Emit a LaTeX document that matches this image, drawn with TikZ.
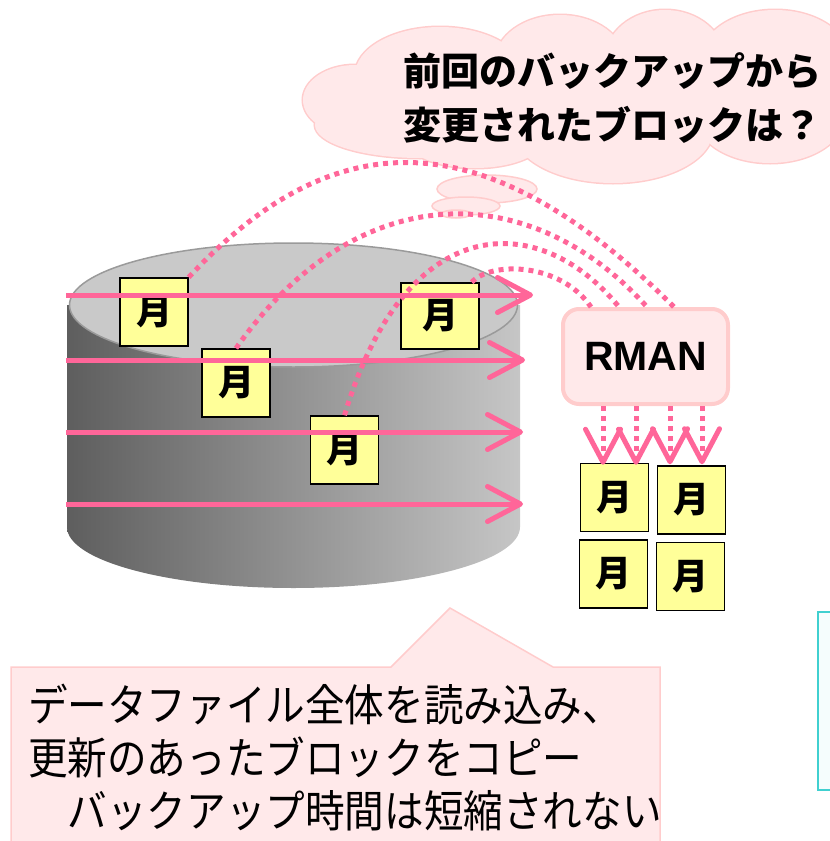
\documentclass[tikz,border=0pt]{standalone}
\usepackage{fontspec}
\setmainfont{Liberation Sans}
\newfontfamily\jp{Noto Sans CJK JP}
\newfontfamily\jpnarrow[FakeStretch=0.9]{Noto Sans CJK JP}
\usetikzlibrary{arrows.meta,calc}
\definecolor{hotpink}{HTML}{FF6699}
\definecolor{paleink}{HTML}{FFE9EA}
\definecolor{paleline}{HTML}{FFCCCC}
\definecolor{memo}{HTML}{FFFF99}
\definecolor{cylDark}{HTML}{5E5E5E}
\definecolor{cylLight}{HTML}{C6C6C6}
\definecolor{cylTop}{HTML}{C9C9C9}
\definecolor{cylEdge}{HTML}{9A9A9A}
\definecolor{aqua}{HTML}{40D0D0}

\begin{document}
\begin{tikzpicture}[x=1pt,y=-1pt,
    blk/.style={draw=black,line width=1.5pt,fill=memo,minimum width=68pt,minimum height=68pt,inner sep=0pt,font=\jp\bfseries\fontsize{36}{36}\selectfont},
    barb/.style={-{Straight Barb[length=33pt,width=35pt,round]}},
    scan/.style={hotpink,line width=5pt,barb},
    chg/.style={hotpink,line width=5pt,dash pattern=on 5pt off 5pt},
    lobe/.style={draw=paleline,fill=paleink,line width=3pt}]
\useasboundingbox (0,0) rectangle (830,841);
\clip (0,0) rectangle (830,841);

% thought cloud: outline of all lobes first, then fill them over
\foreach \cx/\cy/\rx/\ry in {355/100/52/35,440/75/85/48,560/62/65/47,665/60/60/50,775/60/75/50,
    420/125/105/33,475/138/70/30,613/130/100/53,770/115/75/48,800/100/40/45}
  \draw[lobe] (\cx,\cy) ellipse[x radius=\rx,y radius=\ry];
\foreach \cx/\cy/\rx/\ry in {355/100/52/35,440/75/85/48,560/62/65/47,665/60/60/50,775/60/75/50,
    420/125/105/33,475/138/70/30,613/130/100/53,770/115/75/48,800/100/40/45,600/95/180/60}
  \fill[paleink] (\cx,\cy) ellipse[x radius=\rx,y radius=\ry];
\draw[paleline,fill=paleink,line width=1.5pt] (487,189) ellipse[x radius=50,y radius=14];
\draw[paleline,fill=paleink,line width=1.5pt] (466,206) ellipse[x radius=34,y radius=9];
\draw[paleline,fill=paleink,line width=1.5pt] (456,214) ellipse[x radius=15,y radius=4];
\node[font=\jp\bfseries\fontsize{38}{54}\selectfont,align=center] (ask) at (612,98)
  {前回のバックアップから\\変更されたブロックは？};

% datafile cylinder
\path[left color=cylDark,right color=cylLight] (67,305) -- (67,527)
  arc[start angle=180,end angle=0,x radius=226.5,y radius=61] -- (520,305) -- cycle;
\draw[cylEdge,fill=cylTop,line width=1.5pt] (293.5,305) ellipse[x radius=224,y radius=62];

% blocks in the datafile
\node[blk] (b1) at (154,312) {月};
\node[blk] (b2) at (236,383) {月};
\node[blk] (b3) at (344.5,450) {月};
\node[blk,minimum width=78pt,minimum height=66pt] (b4) at (440,316) {月};

% full scan of the file
\foreach \y/\e in {295/533,360/525,432/523,504/523}
  \draw[scan] (66,\y) -- (\e,\y);

% RMAN and the copied blocks
\node[draw=paleline,fill=paleink,line width=4pt,rounded corners=16pt,minimum width=165pt,minimum height=95pt,
  font=\bfseries\fontsize{41}{41}\selectfont] (rman) at (645.5,356.5) {RMAN};
\node[blk] (ca) at (614.5,497.5) {月};
\node[blk] (cb) at (691.5,500) {月};
\node[blk] (cc) at (613.5,574) {月};
\node[blk] (cd) at (690.5,576.5) {月};

% changed blocks read by RMAN
\draw[chg] (b1.north east) .. controls +(147,-158) and +(-187,-187) .. ($(rman.north west)+(113,0)$);
\draw[chg] (b2.north) .. controls +(121,-172) and +(-117,-130) .. ($(rman.north west)+(86,0)$);
\draw[chg] (b3.north) .. controls +(62,-207) and +(-79,-97) .. ($(rman.north west)+(58,0)$);
\draw[chg] ($(b4.north east)+(-8,0)$) .. controls +(19,-21) and +(-31,-45) .. ($(rman.north west)+(30,0)$);

% written out to the backup
\coordinate (d1) at (603,0);
\coordinate (d2) at (636,0);
\coordinate (d3) at (670,0);
\coordinate (d4) at (702,0);
\draw[chg,barb] (rman.south -| d1) -- ($(ca.north -| d1)+(0,2)$);
\draw[chg,barb] (rman.south -| d2) -- ($(ca.north -| d2)+(0,2)$);
\draw[chg,barb] (rman.south -| d3) -- ($(cb.north -| d3)+(0,-1)$);
\draw[chg,barb] (rman.south -| d4) -- ($(cb.north -| d4)+(0,-1)$);

% callout below
\draw[paleline,fill=paleink,line width=1.5pt] (11,667) -- (391,667) -- (450,608) -- (553,667) -- (660,667)
  -- (660,850) -- (11,850) -- cycle;
\node[anchor=north west,align=left,inner sep=0pt,font=\jpnarrow\fontsize{44}{53}\selectfont] (memo) at (28,684)
  {データファイル全体を読み込み、\\更新のあったブロックをコピー\\　バックアップ時間は短縮されない};

\draw[aqua,fill=aqua!5,line width=2.5pt] (818,612) rectangle (850,790);
\end{tikzpicture}
\end{document}
